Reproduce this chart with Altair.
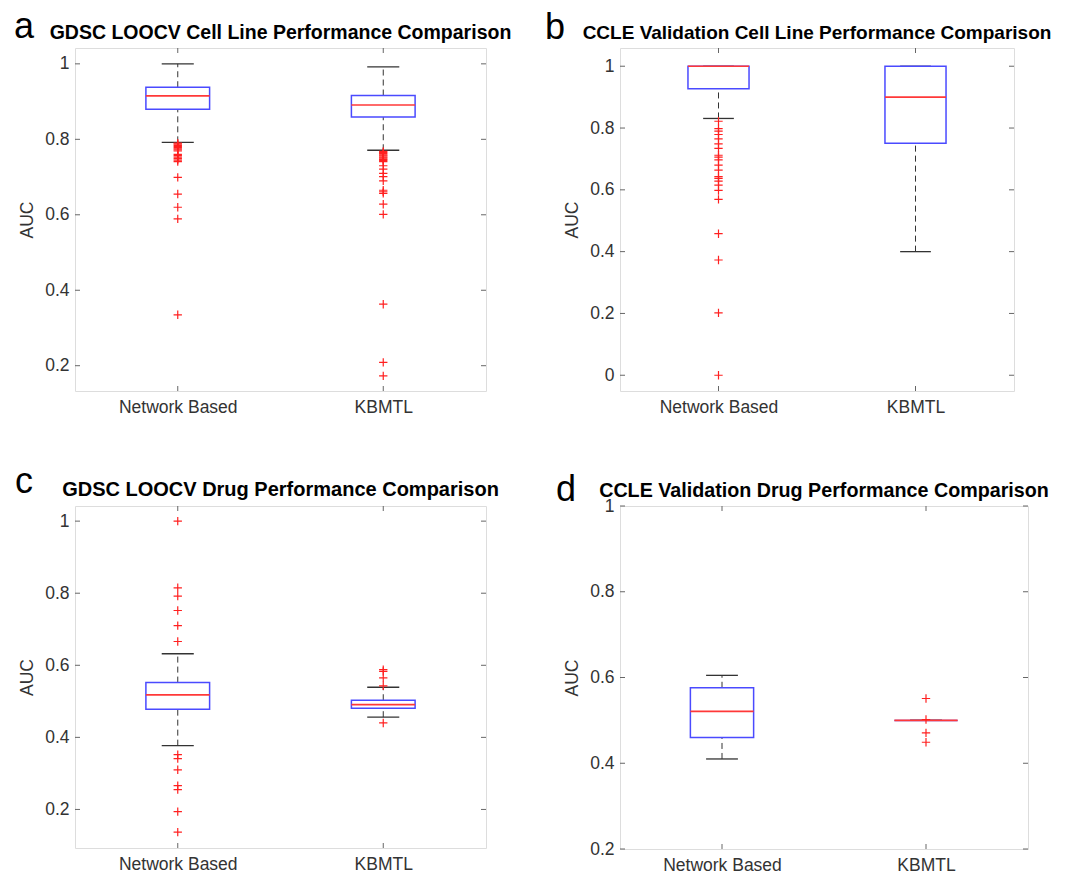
import altair as alt
import pandas as pd

GROUPS = ["Network Based", "KBMTL"]
POS = [1, 2]

# ---- Panel a: GDSC LOOCV cell line ----
A_LO = [0.792, 0.771]
A_Q1 = [0.880, 0.859]
A_MED = [0.915, 0.891]
A_Q3 = [0.938, 0.916]
A_HI = [1.0, 0.992]
A_OUT_NB = [0.790, 0.787, 0.784, 0.781, 0.778, 0.775, 0.772, 0.769, 0.760, 0.757,
            0.753, 0.749, 0.745, 0.741, 0.699, 0.655, 0.620, 0.589, 0.335]
A_OUT_KB = [0.768, 0.765, 0.762, 0.759, 0.756, 0.753, 0.750, 0.747, 0.744, 0.741,
            0.730, 0.721, 0.710, 0.701, 0.690, 0.665, 0.661, 0.657, 0.628, 0.601,
            0.363, 0.209, 0.173]

# ---- Panel b: CCLE validation cell line ----
B_LO = [0.831, 0.400]
B_Q1 = [0.927, 0.751]
B_MED = [1.0, 0.900]
B_Q3 = [1.0, 1.0]
B_HI = [1.0, 1.0]
B_OUT_NB = [0.822, 0.798, 0.790, 0.779, 0.765, 0.749, 0.734, 0.712, 0.706, 0.697,
            0.680, 0.664, 0.643, 0.637, 0.628, 0.615, 0.598, 0.569, 0.458, 0.373,
            0.202, 0.0]
B_OUT_KB = []

# ---- Panel c: GDSC LOOCV drug ----
C_LO = [0.377, 0.456]
C_Q1 = [0.478, 0.481]
C_MED = [0.518, 0.491]
C_Q3 = [0.552, 0.503]
C_HI = [0.632, 0.539]
C_OUT_NB = [1.0, 0.815, 0.792, 0.752, 0.710, 0.666, 0.352, 0.341, 0.310, 0.266,
            0.255, 0.194, 0.137]
C_OUT_KB = [0.588, 0.583, 0.565, 0.543, 0.440]

# ---- Panel d: CCLE validation drug ----
D_LO = [0.410, 0.500]
D_Q1 = [0.460, 0.500]
D_MED = [0.521, 0.500]
D_Q3 = [0.576, 0.500]
D_HI = [0.605, 0.500]
D_OUT_NB = []
D_OUT_KB = [0.551, 0.502, 0.471, 0.449]

BOX_HALF = 0.155
CAP_HALF = 0.078
TICK_LEN = 5
FRAME = "#666666"
LABEL = "#333333"
FONT = "Liberation Sans"
PLUS = "M-1,0L1,0M0,-1L0,1"


def panel(letter, title, tsize, lo, q1, med, q3, hi, out_nb, out_kb,
          ydom, yticks, W, H, ldx, ldy, tdy):
    box = pd.DataFrame({"group": GROUPS, "pos": POS, "lo": lo, "q1": q1,
                        "med": med, "q3": q3, "hi": hi})
    box["xl"] = box["pos"] - BOX_HALF
    box["xr"] = box["pos"] + BOX_HALF
    box["cl"] = box["pos"] - CAP_HALF
    box["cr"] = box["pos"] + CAP_HALF
    outs = pd.DataFrame({
        "pos": [1] * len(out_nb) + [2] * len(out_kb),
        "v": list(out_nb) + list(out_kb),
    })
    yt = pd.DataFrame({"v": yticks})
    xt = pd.DataFrame({"p": POS})

    xs = alt.Scale(domain=[0.5, 2.5], nice=False, zero=False)
    ys = alt.Scale(domain=ydom, nice=False, zero=False)
    xaxis = alt.Axis(values=POS, title=None, grid=False, ticks=False, domain=False,
                     labelExpr="datum.value == 1 ? 'Network Based' : 'KBMTL'",
                     labelFont=FONT, labelFontSize=17.5, labelColor=LABEL,
                     labelPadding=7)
    yaxis = alt.Axis(values=yticks, title="AUC", grid=False, ticks=False, domain=False,
                     labelExpr="format(datum.value, '~g')",
                     labelFont=FONT, labelFontSize=17.5, labelColor=LABEL,
                     labelPadding=6, titleFont=FONT, titleFontSize=17.5,
                     titleFontWeight="normal", titleColor=LABEL, titlePadding=8)

    base = alt.Chart(box)
    whisk_up = base.mark_rule(color="#333333", strokeDash=[6, 4], strokeWidth=1).encode(
        x=alt.X("pos:Q", scale=xs, axis=xaxis),
        y=alt.Y("q3:Q", scale=ys, axis=yaxis),
        y2="hi:Q")
    whisk_dn = base.mark_rule(color="#333333", strokeDash=[6, 4], strokeWidth=1).encode(
        x=alt.X("pos:Q", scale=xs), y=alt.Y("lo:Q", scale=ys), y2="q1:Q")
    cap_hi = base.mark_rule(color="#333333", strokeWidth=1.3).encode(
        x=alt.X("cl:Q", scale=xs), x2="cr:Q", y=alt.Y("hi:Q", scale=ys))
    cap_lo = base.mark_rule(color="#333333", strokeWidth=1.3).encode(
        x=alt.X("cl:Q", scale=xs), x2="cr:Q", y=alt.Y("lo:Q", scale=ys))
    rect = base.mark_rect(fill="white", fillOpacity=0, stroke="#4a4aff",
                          strokeWidth=1.5).encode(
        x=alt.X("xl:Q", scale=xs), x2="xr:Q",
        y=alt.Y("q1:Q", scale=ys), y2="q3:Q")
    median = base.mark_rule(color="#ff3838", strokeWidth=1.7).encode(
        x=alt.X("xl:Q", scale=xs), x2="xr:Q", y=alt.Y("med:Q", scale=ys))
    pts = alt.Chart(outs).mark_point(shape=PLUS, filled=False, color="#ff2020",
                                     size=70, strokeWidth=1.2, opacity=1).encode(
        x=alt.X("pos:Q", scale=xs), y=alt.Y("v:Q", scale=ys))

    tl = alt.Chart(yt).mark_rule(color=FRAME, strokeWidth=1).encode(
        x=alt.value(0), x2=alt.value(TICK_LEN), y=alt.Y("v:Q", scale=ys))
    tr = alt.Chart(yt).mark_rule(color=FRAME, strokeWidth=1).encode(
        x=alt.value(W - TICK_LEN), x2=alt.value(W), y=alt.Y("v:Q", scale=ys))
    tt = alt.Chart(xt).mark_rule(color=FRAME, strokeWidth=1).encode(
        x=alt.X("p:Q", scale=xs), y=alt.value(0), y2=alt.value(TICK_LEN))
    tb = alt.Chart(xt).mark_rule(color=FRAME, strokeWidth=1).encode(
        x=alt.X("p:Q", scale=xs), y=alt.value(H - TICK_LEN), y2=alt.value(H))

    txt = pd.DataFrame({"letter": [letter], "title": [title]})
    let = alt.Chart(txt).mark_text(
        align="left", baseline="alphabetic", fontSize=36, font=FONT,
        color="black").encode(text="letter:N", x=alt.value(ldx), y=alt.value(ldy))
    ttl = alt.Chart(txt).mark_text(
        align="center", baseline="alphabetic", fontSize=tsize, font=FONT,
        fontWeight="bold", color="black").encode(
        text="title:N", x=alt.value(W / 2), y=alt.value(tdy))

    return alt.layer(whisk_up, whisk_dn, cap_hi, cap_lo, rect, median, pts,
                     tl, tr, tt, tb, let, ttl).properties(width=W, height=H)


pa = panel("a", "GDSC LOOCV Cell Line Performance Comparison", 19.5,
           A_LO, A_Q1, A_MED, A_Q3, A_HI, A_OUT_NB, A_OUT_KB,
           [0.133, 1.042], [0.2, 0.4, 0.6, 0.8, 1], 411, 343, -61, -10, -9)
pb = panel("b", "CCLE Validation Cell Line Performance Comparison", 19.0,
           B_LO, B_Q1, B_MED, B_Q3, B_HI, B_OUT_NB, B_OUT_KB,
           [-0.051, 1.059], [0, 0.2, 0.4, 0.6, 0.8, 1], 394, 343, -75, -9, -9)
pc = panel("c", "GDSC LOOCV Drug Performance Comparison", 20.0,
           C_LO, C_Q1, C_MED, C_Q3, C_HI, C_OUT_NB, C_OUT_KB,
           [0.093, 1.042], [0.2, 0.4, 0.6, 0.8, 1], 411, 342, -60, -13, -10)
pd_ = panel("d", "CCLE Validation Drug Performance Comparison", 19.7,
            D_LO, D_Q1, D_MED, D_Q3, D_HI, D_OUT_NB, D_OUT_KB,
            [0.2, 1.0], [0.2, 0.4, 0.6, 0.8, 1], 408, 343, -64, -5, -9)

chart = alt.concat(pa, pb, pc, pd_, columns=2).properties(
    bounds="flush", align="none",
    spacing=alt.RowColnumber(row=115, column=134),
    padding={"left": 5, "top": 0, "right": 0, "bottom": 0},
).configure_view(stroke=FRAME, strokeWidth=1.2).configure(background="white")

chart.save("out.html", embed_options={"renderer": "svg", "actions": False})
